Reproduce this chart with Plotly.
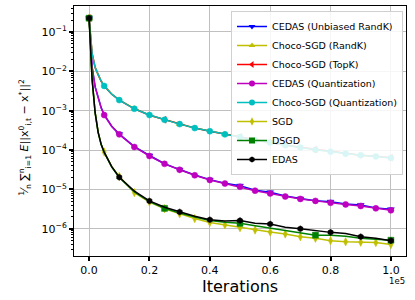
import plotly.graph_objects as go

# iterations (x axis shown in units of 1e5)
iterations = [0, 1000, 2000, 3000, 4000, 5000, 7500, 10000, 15000, 20000, 25000, 30000,
              35000, 40000, 45000, 50000, 55000, 60000, 65000, 70000, 75000, 80000,
              85000, 90000, 95000, 100000]

cedas_unbiased_randk = [0.224, 0.0130, 4.1e-3, 2.05e-3, 1.2e-3, 7.9e-4, 4.05e-4, 2.55e-4, 1.22e-4,
                        7.3e-5, 4.5e-5, 3.2e-5, 2.33e-5, 1.78e-5, 1.43e-5, 1.25e-5, 9.6e-6, 8.5e-6,
                        6.8e-6, 5.9e-6, 5.2e-6, 4.9e-6, 4.25e-6, 4.05e-6, 3.4e-6, 3.15e-6]
choco_randk = [0.224, 0.0285, 0.0128, 8.0e-3, 5.7e-3, 4.3e-3, 2.65e-3, 1.88e-3, 1.13e-3, 7.8e-4,
               5.95e-4, 4.6e-4, 3.65e-4, 3.04e-4, 2.53e-4, 2.15e-4, 1.80e-4, 1.56e-4, 1.33e-4,
               1.18e-4, 1.03e-4, 9.2e-5, 8.2e-5, 7.45e-5, 6.95e-5, 6.3e-5]
choco_topk = [0.224, 0.0280, 0.0125, 7.9e-3, 5.6e-3, 4.25e-3, 2.62e-3, 1.85e-3, 1.12e-3, 7.7e-4,
              5.9e-4, 4.6e-4, 3.62e-4, 3.0e-4, 2.52e-4, 2.16e-4, 1.79e-4, 1.56e-4, 1.33e-4,
              1.18e-4, 1.03e-4, 9.2e-5, 8.15e-5, 7.4e-5, 6.95e-5, 6.4e-5]
cedas_quant = [0.224, 0.0126, 3.98e-3, 2.0e-3, 1.17e-3, 7.76e-4, 3.98e-4, 2.51e-4, 1.20e-4, 7.08e-5,
               4.47e-5, 3.16e-5, 2.29e-5, 1.74e-5, 1.41e-5, 1.17e-5, 9.33e-6, 7.94e-6, 6.61e-6,
               5.75e-6, 5.13e-6, 4.57e-6, 4.17e-6, 3.80e-6, 3.31e-6, 2.95e-6]
choco_quant = [0.224, 0.0282, 0.0126, 7.94e-3, 5.62e-3, 4.27e-3, 2.63e-3, 1.86e-3, 1.12e-3, 7.76e-4,
               5.89e-4, 4.57e-4, 3.63e-4, 3.02e-4, 2.51e-4, 2.14e-4, 1.78e-4, 1.55e-4, 1.32e-4,
               1.17e-4, 1.02e-4, 9.12e-5, 8.13e-5, 7.41e-5, 6.92e-5, 6.31e-5]
sgd = [0.224, 6.31e-3, 8.91e-4, 2.82e-4, 1.38e-4, 8.91e-5, 3.80e-5, 2.14e-5, 8.32e-6, 4.79e-6,
       3.24e-6, 2.40e-6, 1.82e-6, 1.45e-6, 1.26e-6, 1.07e-6, 9.33e-7, 8.32e-7, 7.41e-7, 6.31e-7,
       5.75e-7, 5.01e-7, 4.68e-7, 4.57e-7, 4.47e-7, 3.98e-7]
dsgd = [0.224, 6.31e-3, 8.91e-4, 2.82e-4, 1.38e-4, 8.71e-5, 3.72e-5, 2.0e-5, 8.71e-6, 4.90e-6,
        3.31e-6, 2.51e-6, 2.0e-6, 1.62e-6, 1.48e-6, 1.38e-6, 1.20e-6, 1.05e-6, 9.12e-7, 7.94e-7,
        6.92e-7, 6.92e-7, 6.46e-7, 5.75e-7, 5.50e-7, 5.13e-7]
edas = [0.224, 6.31e-3, 8.91e-4, 2.82e-4, 1.41e-4, 8.91e-5, 3.80e-5, 2.04e-5, 9.12e-6, 5.13e-6,
        3.55e-6, 2.69e-6, 2.09e-6, 1.70e-6, 1.58e-6, 1.62e-6, 1.38e-6, 1.32e-6, 1.10e-6, 1.0e-6,
        8.91e-7, 8.13e-7, 7.59e-7, 6.31e-7, 5.75e-7, 5.01e-7]

series_names = ["CEDAS (Unbiased RandK)", "Choco-SGD (RandK)", "Choco-SGD (TopK)",
                "CEDAS (Quantization)", "Choco-SGD (Quantization)", "SGD", "DSGD", "EDAS"]
series_values = [cedas_unbiased_randk, choco_randk, choco_topk, cedas_quant, choco_quant,
                 sgd, dsgd, edas]
series_colors = ["#0000ff", "#bfbf00", "#ff0000", "#bf00bf", "#00bfbf", "#bfbf00", "#008000", "#000000"]
series_symbols = ["triangle-down", "triangle-up", "triangle-left", "circle", "circle",
                  "diamond-tall", "square", "hexagon"]
marker_every = [10000, 15000, 25000, 5000, 5000, 5000, 25000, 10000]

x_tickvals = [0, 20000, 40000, 60000, 80000, 100000]
x_ticktext = ["0.0", "0.2", "0.4", "0.6", "0.8", "1.0"]
y_tickvals = [1e-6, 1e-5, 1e-4, 1e-3, 1e-2, 1e-1]
y_ticktext = ["10<sup>−6</sup>", "10<sup>−5</sup>", "10<sup>−4</sup>", "10<sup>−3</sup>",
              "10<sup>−2</sup>", "10<sup>−1</sup>"]
y_minor = [m * 10.0 ** e for e in range(-7, 0) for m in range(2, 10)]

FONT = "DejaVu Sans"
fig = go.Figure()
for name, vals, col, sym, step in zip(series_names, series_values, series_colors,
                                      series_symbols, marker_every):
    fig.add_trace(go.Scatter(x=iterations, y=vals, mode="lines",
                             line=dict(color=col, width=1.5), showlegend=False,
                             hoverinfo="skip"))
    mx = [x for x in iterations if x % step == 0]
    my = [v for x, v in zip(iterations, vals) if x % step == 0]
    fig.add_trace(go.Scatter(x=mx, y=my, mode="markers", showlegend=False,
                             marker=dict(color=col, symbol=sym, size=6,
                                         line=dict(color=col, width=0.5))))
    fig.add_trace(go.Scatter(x=[None], y=[None], mode="lines+markers", name=name,
                             line=dict(color=col, width=1.5),
                             marker=dict(color=col, symbol=sym, size=6)))

fig.update_layout(
    width=415, height=300,
    margin=dict(l=74, r=9, t=6, b=44),
    paper_bgcolor="white", plot_bgcolor="white",
    font=dict(family=FONT, size=11, color="black"),
    showlegend=True,
    legend=dict(x=0.991, y=0.98, xanchor="right", yanchor="top",
                bgcolor="rgba(255,255,255,0.85)", bordercolor="#d0d0d0", borderwidth=1,
                font=dict(family=FONT, size=9.5), itemwidth=30, tracegroupgap=0),
    xaxis=dict(range=[-5000, 105000], tickvals=x_tickvals, ticktext=x_ticktext,
               showgrid=True, gridcolor="#c0c0c0", gridwidth=1,
               showline=True, linecolor="black", linewidth=1, mirror=True,
               ticks="outside", ticklen=4, tickwidth=1.5, tickcolor="black",
               zeroline=False, tickfont=dict(size=11)),
    yaxis=dict(type="log", range=[-6.69, -0.34], tickvals=y_tickvals, ticktext=y_ticktext,
               showgrid=True, gridcolor="#c0c0c0", gridwidth=1,
               showline=True, linecolor="black", linewidth=1, mirror=True,
               ticks="outside", ticklen=4, tickwidth=1.5, tickcolor="black",
               zeroline=False, tickfont=dict(size=11),
               minor=dict(tickmode="array", tickvals=y_minor, ticks="outside",
                          ticklen=2, tickwidth=0.8, tickcolor="black", showgrid=False)),
)

fig.add_annotation(text="Iterations", xref="paper", yref="paper", x=0.5, y=-0.12,
                   xanchor="center", yanchor="middle", showarrow=False,
                   font=dict(family=FONT, size=16))
fig.add_annotation(text="1e5", xref="paper", yref="paper", x=1.003, y=-0.098,
                   xanchor="right", yanchor="middle", showarrow=False,
                   font=dict(family=FONT, size=8.5))
fig.add_annotation(
    text="<sup>1</sup>⁄<sub>n</sub> ∑<sup>n</sup><sub>i=1</sub> <i>E</i>||x<sup>0</sup><sub>i,t</sub> − x<sup>*</sup>||<sup>2</sup>",
    xref="paper", yref="paper", x=-0.148, y=0.476, xanchor="center", yanchor="middle",
    textangle=-90, showarrow=False, font=dict(family=FONT, size=11))

fig.write_html("out.html", config={"displayModeBar": False},
               post_script="document.body.style.margin='0';")
